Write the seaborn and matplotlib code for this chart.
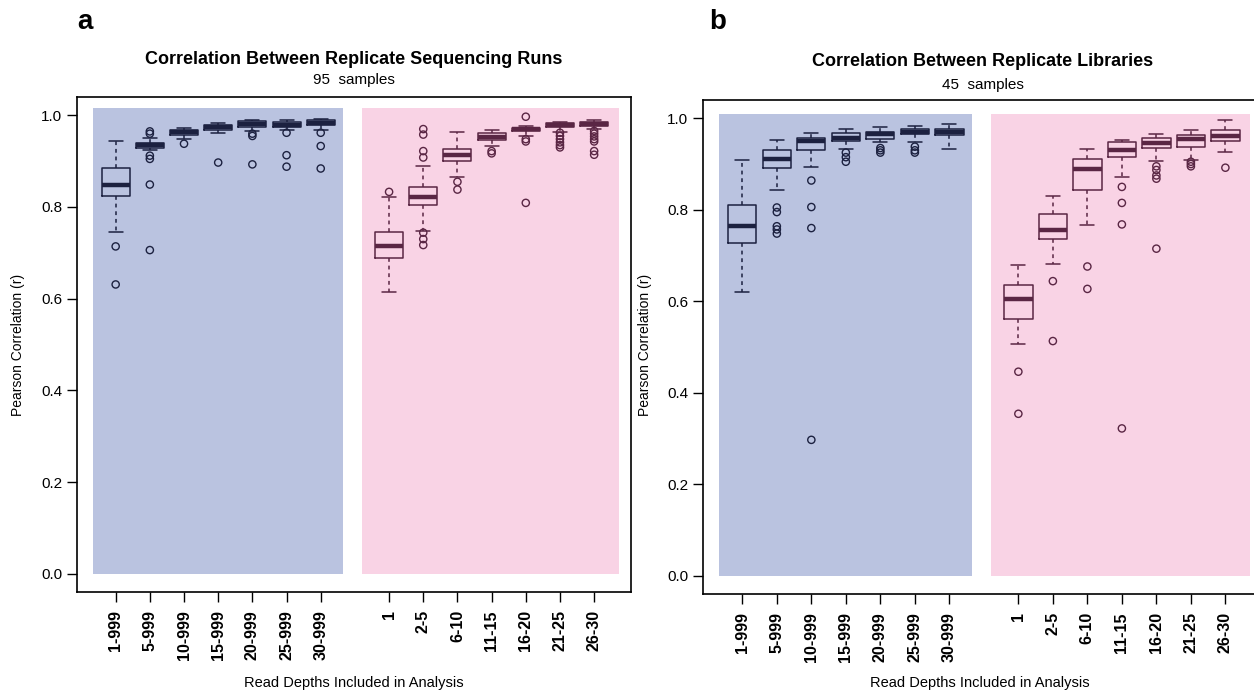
import matplotlib
matplotlib.use("Agg")
import matplotlib.pyplot as plt
from matplotlib.patches import Rectangle
import seaborn as sns
import pandas as pd
import numpy as np

# categories
cats_blue = ['1-999', '5-999', '10-999', '15-999', '20-999', '25-999', '30-999']
cats_pink = ['1', '2-5', '6-10', '11-15', '16-20', '21-25', '26-30']

# panel a: replicate sequencing runs (box summary)
lo_a = [0.746, 0.925, 0.948, 0.962, 0.966, 0.969, 0.969, 0.614, 0.747, 0.866, 0.933, 0.955, 0.964, 0.971]
q1_a = [0.824, 0.929, 0.958, 0.969, 0.974, 0.975, 0.978, 0.689, 0.804, 0.900, 0.946, 0.965, 0.974, 0.977]
med_a = [0.848, 0.935, 0.963, 0.975, 0.981, 0.980, 0.984, 0.714, 0.822, 0.913, 0.953, 0.970, 0.978, 0.982]
q3_a = [0.886, 0.940, 0.968, 0.980, 0.987, 0.985, 0.989, 0.745, 0.843, 0.926, 0.962, 0.973, 0.983, 0.986]
hi_a = [0.944, 0.950, 0.972, 0.983, 0.990, 0.990, 0.992, 0.821, 0.889, 0.964, 0.969, 0.977, 0.985, 0.990]
fliers_a = [
    [0.714, 0.631],
    [0.965, 0.960, 0.912, 0.905, 0.849, 0.706],
    [0.938],
    [0.897],
    [0.960, 0.955, 0.893],
    [0.962, 0.913, 0.888],
    [0.962, 0.933, 0.884],
    [0.833],
    [0.970, 0.958, 0.922, 0.908, 0.744, 0.730, 0.717],
    [0.855, 0.838],
    [0.922, 0.917],
    [0.997, 0.948, 0.943, 0.809],
    [0.962, 0.955, 0.948, 0.941, 0.935, 0.930],
    [0.966, 0.960, 0.954, 0.948, 0.943, 0.922, 0.914],
]

# panel b: replicate libraries
lo_b = [0.621, 0.843, 0.893, 0.932, 0.948, 0.948, 0.932, 0.507, 0.682, 0.767, 0.872, 0.906, 0.909, 0.926]
q1_b = [0.728, 0.892, 0.930, 0.950, 0.955, 0.965, 0.964, 0.562, 0.736, 0.843, 0.915, 0.934, 0.938, 0.950]
med_b = [0.764, 0.912, 0.950, 0.958, 0.965, 0.970, 0.970, 0.604, 0.755, 0.890, 0.930, 0.947, 0.955, 0.961]
q3_b = [0.810, 0.930, 0.956, 0.967, 0.971, 0.976, 0.976, 0.636, 0.791, 0.912, 0.948, 0.958, 0.963, 0.974]
hi_b = [0.909, 0.952, 0.967, 0.976, 0.982, 0.984, 0.988, 0.680, 0.831, 0.932, 0.952, 0.966, 0.974, 0.996]
fliers_b = [
    [],
    [0.805, 0.795, 0.764, 0.757, 0.748],
    [0.864, 0.806, 0.760, 0.297],
    [0.925, 0.915, 0.905],
    [0.935, 0.930, 0.925],
    [0.938, 0.930, 0.925],
    [],
    [0.446, 0.354],
    [0.644, 0.513],
    [0.676, 0.627],
    [0.850, 0.815, 0.768, 0.322],
    [0.895, 0.887, 0.875, 0.868, 0.715],
    [0.905, 0.900, 0.895],
    [0.892],
]

sns.set_style('white')
plt.rcParams['font.family'] = ['Liberation Sans', 'DejaVu Sans']
plt.rcParams.update({
    'text.color': 'black',
    'axes.labelcolor': 'black',
    'xtick.color': 'black',
    'ytick.color': 'black',
})

line_colors = {'threshold': '#1c2140', 'window': '#5a2644'}
bg_blue = '#bac3e0'
bg_pink = '#f9d3e5'


def draw_panel(ax, lo, q1, med, q3, hi, fliers, rect_top):
    order = cats_blue + [' '] + cats_pink
    labels = cats_blue + cats_pink
    groups = ['threshold'] * 7 + ['window'] * 7

    ax.add_patch(Rectangle((-0.67, 0), 7.33, rect_top, color=bg_blue, lw=0, zorder=0))
    ax.add_patch(Rectangle((7.22, 0), 7.5, rect_top, color=bg_pink, lw=0, zorder=0))

    rows = []
    for lab, grp, a, b, c, d, e in zip(labels, groups, lo, q1, med, q3, hi):
        for v in (a, b, c, d, e):
            rows.append((lab, grp, v))
    box_df = pd.DataFrame(rows, columns=['depth', 'group', 'r'])

    sns.boxplot(data=box_df, x='depth', y='r', hue='group', order=order,
                palette=line_colors, fill=False, whis=(0, 100), width=0.82,
                linewidth=1.1, showfliers=False, legend=False,
                medianprops={'linewidth': 3.2},
                whiskerprops={'linestyle': (0, (2.5, 2.5))},
                ax=ax)

    fl_rows = [(lab, grp, v) for lab, grp, vals in zip(labels, groups, fliers) for v in vals]
    fl_df = pd.DataFrame(fl_rows, columns=['depth', 'group', 'r'])
    n_before = len(ax.collections)
    sns.stripplot(data=fl_df, x='depth', y='r', hue='group', order=order,
                  palette=line_colors, jitter=False, size=5.2, marker='o',
                  linewidth=1, legend=False, ax=ax)
    for coll in ax.collections[n_before:]:
        fc = coll.get_facecolors()
        coll.set_edgecolors(fc)
        coll.set_facecolors('none')

    ax.set_xlim(-1.14, 15.09)
    ax.set_ylim(-0.04, 1.04)
    ticks = [i for i in range(len(order)) if order[i].strip()]
    ax.set_xticks(ticks)
    ax.set_xticklabels(labels, rotation=90, fontsize=11.5, fontweight='bold')
    ax.set_yticks(np.arange(0, 1.01, 0.2))
    ax.set_yticklabels([f'{v:.1f}' for v in np.arange(0, 1.01, 0.2)], fontsize=11)
    ax.tick_params(axis='both', direction='out', length=7, width=1,
                   color='black', bottom=True, left=True)
    ax.tick_params(axis='x', pad=6)
    ax.set_xlabel('')
    ax.set_ylabel('')
    for sp in ax.spines.values():
        sp.set_visible(True)
        sp.set_color('black')
        sp.set_linewidth(1.2)


W, H = 1254, 694
fig = plt.figure(figsize=(W / 100, H / 100), dpi=100)

ax_a = fig.add_axes([76.7 / W, 1 - 592 / H, (631.4 - 76.7) / W, (592 - 97) / H])
ax_b = fig.add_axes([703 / W, 1 - 594 / H, 560 / W, (594 - 100) / H])

draw_panel(ax_a, lo_a, q1_a, med_a, q3_a, hi_a, fliers_a, 1.015)
draw_panel(ax_b, lo_b, q1_b, med_b, q3_b, hi_b, fliers_b, 1.010)

# titles and labels
fig.text(354 / W, 1 - 59 / H, 'Correlation Between Replicate Sequencing Runs',
         ha='center', va='center', fontsize=13, fontweight='bold')
fig.text(354 / W, 1 - 80 / H, '95  samples', ha='center', va='center', fontsize=11)
fig.text(983 / W, 1 - 62 / H, 'Correlation Between Replicate Libraries',
         ha='center', va='center', fontsize=13, fontweight='bold')
fig.text(983 / W, 1 - 85 / H, '45  samples', ha='center', va='center', fontsize=11)

for xc in (354, 980):
    fig.text(xc / W, 1 - 683 / H, 'Read Depths Included in Analysis',
             ha='center', va='center', fontsize=10.5)
for xc in (18, 645):
    fig.text(xc / W, 1 - 345 / H, 'Pearson Correlation (r)', rotation=90,
             ha='center', va='center', fontsize=10)

fig.text(85 / W, 1 - 22 / H, 'a', ha='center', va='center', fontsize=20, fontweight='bold')
fig.text(718 / W, 1 - 22 / H, 'b', ha='center', va='center', fontsize=20, fontweight='bold')

fig.savefig('out.png', dpi=100, facecolor='white')
